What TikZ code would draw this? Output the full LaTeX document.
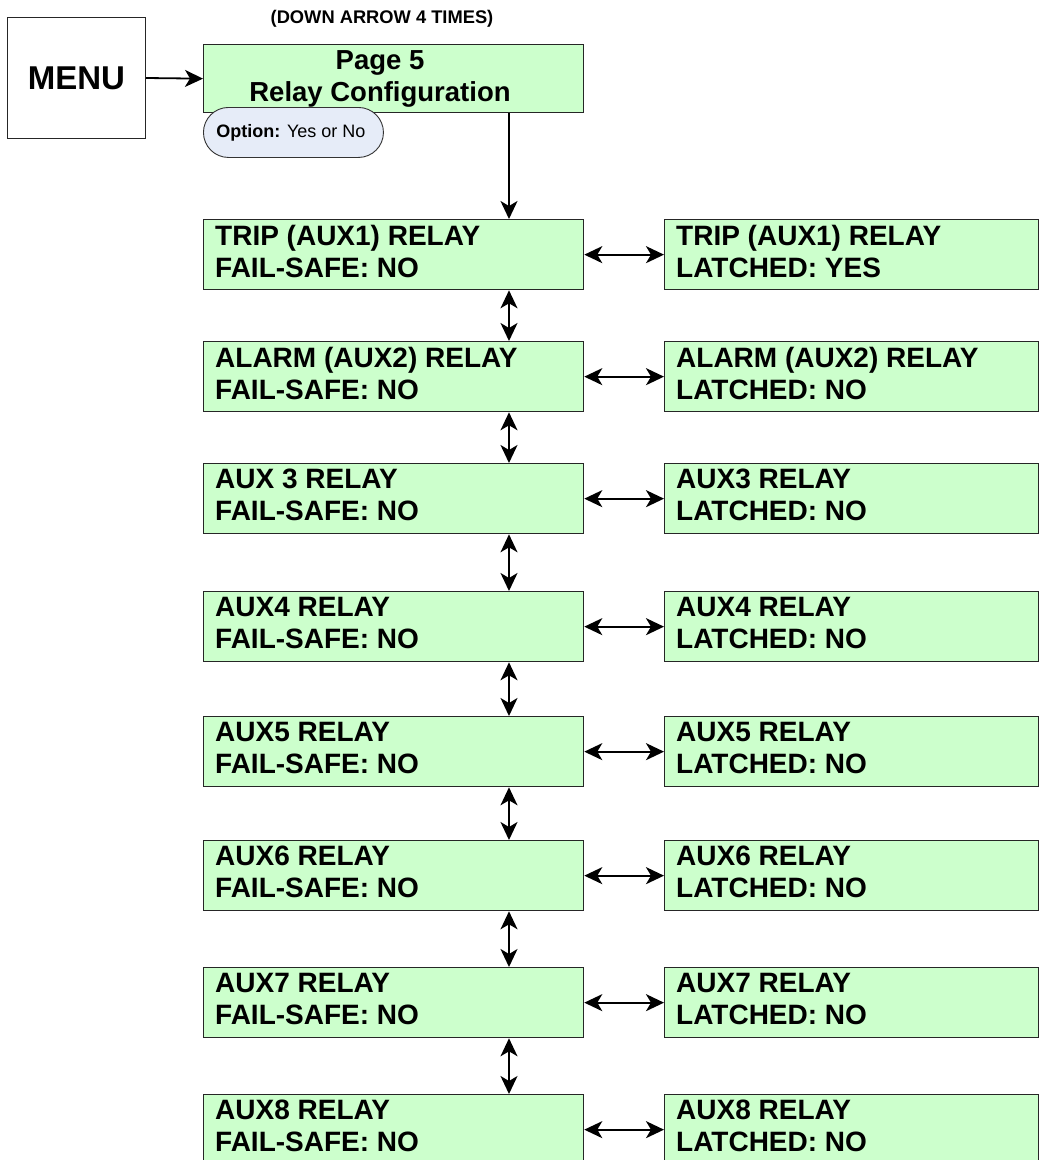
\documentclass[tikz,border=0pt]{standalone}
\usepackage{fontspec}
\setmainfont{Liberation Sans}
\usetikzlibrary{arrows.meta,calc}
\definecolor{boxgreen}{HTML}{CCFFCC}
\definecolor{pillblue}{HTML}{E6ECF8}
\begin{document}
\begin{tikzpicture}[x=1pt,y=-1pt,
  box/.style={draw=black!85,line width=1.3pt,fill=boxgreen,rectangle,inner sep=0pt,anchor=north west},
  txt/.style={inner sep=0pt,anchor=north west,align=left,font=\fontsize{28}{32}\selectfont\bfseries},
  conn/.style={line width=1.8pt,draw=black},
  tip/.tip={Stealth[length=18pt,width=17pt,inset=5pt]},
  sgl/.style={conn,-tip},
  dbl/.style={conn,tip-tip}
]
\useasboundingbox (0,0) rectangle (1040,1160);
% menu
\node[draw=black!85,line width=1pt,fill=white,anchor=north west,minimum width=138pt,minimum height=121pt,inner sep=0pt,font=\fontsize{33}{38}\selectfont\bfseries] (M) at (7,17) {MENU};
% page 5
\node[box,minimum width=380pt,minimum height=68pt] (P) at (203,44) {};
\node[inner sep=0pt,align=center,font=\fontsize{27.5}{32}\selectfont\bfseries] (Pt) at (380,79) {Page 5\\Relay Configuration};
\node[inner sep=0pt,font=\fontsize{18.3}{22}\selectfont\bfseries] (D) at (382,19) {(DOWN ARROW 4 TIMES)};
% option pill
\node[draw=black!80,line width=0.9pt,fill=pillblue,rounded corners=25pt,anchor=north west,minimum width=180pt,minimum height=50pt,inner sep=0pt,font=\fontsize{18}{22}\selectfont] (O) at (203,107) {\textbf{Option:} Yes or No\hspace*{5pt}};
\draw[sgl] (M.east) -- (P.west);
\coordinate (vx) at (509,0);
% rows
\foreach \i/\t/\a/\b/\c in {
  1/219/{TRIP (AUX1) RELAY}/{TRIP (AUX1) RELAY}/YES,
  2/341/{ALARM (AUX2) RELAY}/{ALARM (AUX2) RELAY}/NO,
  3/463/{AUX 3 RELAY}/{AUX3 RELAY}/NO,
  4/591/{AUX4 RELAY}/{AUX4 RELAY}/NO,
  5/716/{AUX5 RELAY}/{AUX5 RELAY}/NO,
  6/840/{AUX6 RELAY}/{AUX6 RELAY}/NO,
  7/967/{AUX7 RELAY}/{AUX7 RELAY}/NO,
  8/1094/{AUX8 RELAY}/{AUX8 RELAY}/NO}{
  \node[box,minimum width=380pt,minimum height=70pt] (L\i) at (203,\t) {};
  \node[box,minimum width=374pt,minimum height=70pt] (R\i) at (664,\t) {};
  \node[txt] (Lt\i) at ([shift={(12,6)}]L\i.north west) {\a\\FAIL-SAFE: NO};
  \node[txt] (Rt\i) at ([shift={(12,6)}]R\i.north west) {\b\\LATCHED: \c};
  \draw[dbl] (L\i.east) -- (R\i.west);
}
\draw[sgl] (P.south -| vx) -- (L1.north -| vx);
\foreach \i/\j in {1/2,2/3,3/4,4/5,5/6,6/7,7/8}{
  \draw[dbl] (L\i.south -| vx) -- (L\j.north -| vx);
}
\end{tikzpicture}
\end{document}
